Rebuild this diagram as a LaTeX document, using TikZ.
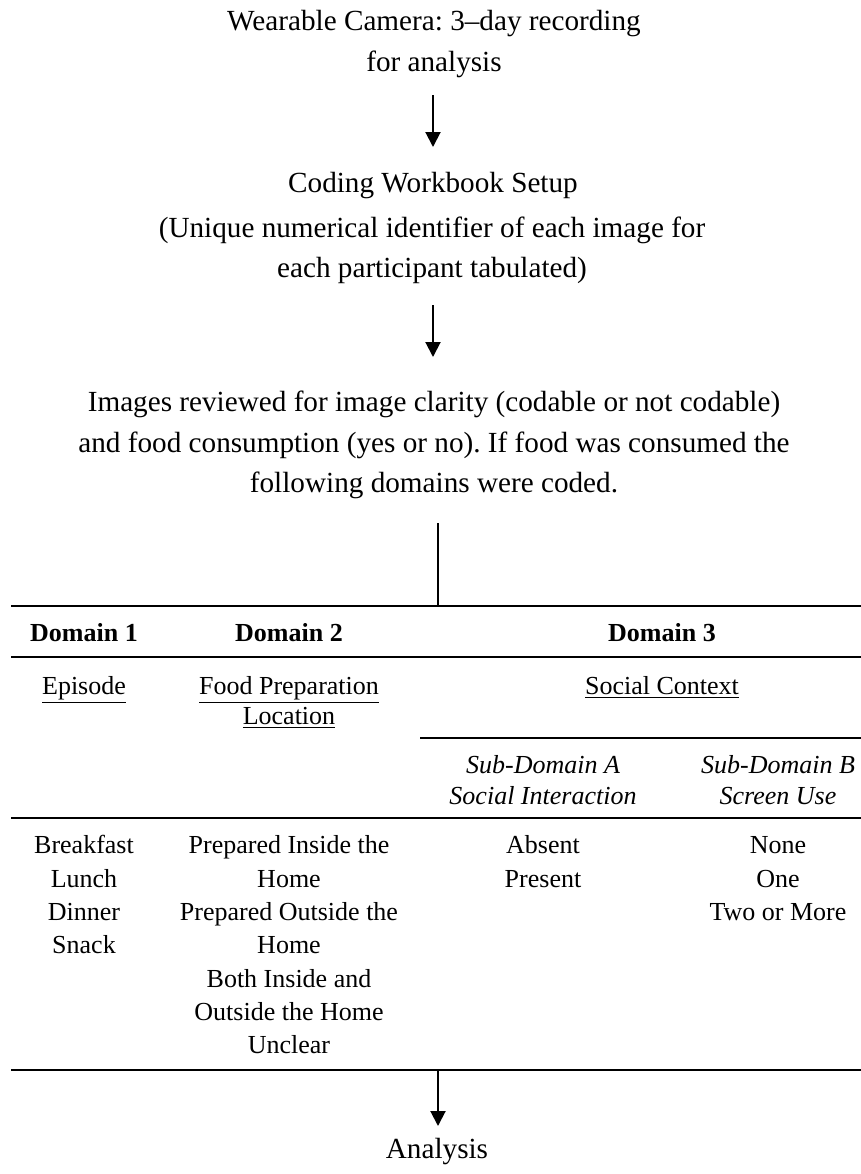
\documentclass[tikz,border=0pt]{standalone}
\usepackage{fontspec}
\setmainfont{Liberation Serif}
\usetikzlibrary{arrows.meta}
\frenchspacing
\begin{document}
\begin{tikzpicture}[x=0.5pt,y=-0.5pt,
  txt/.style={anchor=base, inner sep=0pt, font=\fontsize{13}{16}\selectfont},
  big/.style={anchor=base, inner sep=0pt, font=\fontsize{14.6}{18}\selectfont},
  hd/.style={txt, font=\fontsize{13}{16}\selectfont\bfseries},
  it/.style={txt, font=\fontsize{13}{16}\selectfont\itshape},
  flow/.style={line width=1pt, -{Triangle[length=7.5pt,width=7.5pt]}},
  rulethick/.style={line width=1.3pt},
  rulethin/.style={line width=1.1pt}]
\useasboundingbox (0,0) rectangle (861,1174);
% flow text
\node[big] (t1) at (434,30) {Wearable Camera: 3–day recording};
\node[big] (t2) at (434,71) {for analysis};
\node[big] (c1) at (433,192) {Coding Workbook Setup};
\node[big] (c2) at (432,237) {(Unique numerical identifier of each image for};
\node[big] (c3) at (432,277) {each participant tabulated)};
\node[big] (i1) at (434,411) {Images reviewed for image clarity (codable or not codable)};
\node[big] (i2) at (434,452) {and food consumption (yes or no). If food was consumed the};
\node[big] (i3) at (434,492) {following domains were coded.};
\node[big] (an) at (437,1158) {Analysis};
% connector coordinates
\coordinate (a1s) at (433,95);  \coordinate (a1e) at (433,147);
\coordinate (a2s) at (433,305); \coordinate (a2e) at (433,357);
\coordinate (vs) at (438,523);  \coordinate (ve) at (438,606);
\coordinate (a3s) at (438,1070); \coordinate (a3e) at (438,1126);
\draw[flow] (a1s) -- (a1e);
\draw[flow] (a2s) -- (a2e);
\draw[line width=1pt] (vs) -- (ve);
\draw[flow] (a3s) -- (a3e);
% table rules
\coordinate (r1l) at (11,606);  \coordinate (r1r) at (861,606);
\coordinate (r2l) at (11,657);  \coordinate (r2r) at (861,657);
\coordinate (r3l) at (420,738); \coordinate (r3r) at (861,738);
\coordinate (r4l) at (11,818);  \coordinate (r4r) at (861,818);
\coordinate (r5l) at (11,1070); \coordinate (r5r) at (861,1070);
\draw[rulethick] (r1l) -- (r1r);
\draw[rulethick] (r2l) -- (r2r);
\draw[rulethin] (r3l) -- (r3r);
\draw[rulethin] (r4l) -- (r4r);
\draw[rulethick] (r5l) -- (r5r);
% header row
\node[hd] (d1) at (84,641) {Domain 1};
\node[hd] (d2) at (289,641) {Domain 2};
\node[hd] (d3) at (662,641) {Domain 3};
\node[txt] (ep) at (84,694) {\underline{Episode}};
\node[txt] (fp1) at (289,694) {\underline{Food Preparation}};
\node[txt] (fp2) at (289,724) {\underline{Location}};
\node[txt] (sc) at (662,694) {\underline{Social Context}};
\node[it] (sa1) at (543,773) {Sub-Domain A};
\node[it] (sa2) at (543,804) {Social Interaction};
\node[it] (sb1) at (778,773) {Sub-Domain B};
\node[it] (sb2) at (778,804) {Screen Use};
% body
\node[txt] (e1) at (84,853) {Breakfast};
\node[txt] (e2) at (84,887) {Lunch};
\node[txt] (e3) at (84,920) {Dinner};
\node[txt] (e4) at (84,953) {Snack};
\node[txt] (l1) at (289,853) {Prepared Inside the};
\node[txt] (l2) at (289,887) {Home};
\node[txt] (l3) at (289,920) {Prepared Outside the};
\node[txt] (l4) at (289,953) {Home};
\node[txt] (l5) at (289,987) {Both Inside and};
\node[txt] (l6) at (289,1020) {Outside the Home};
\node[txt] (l7) at (289,1053) {Unclear};
\node[txt] (s1) at (543,853) {Absent};
\node[txt] (s2) at (543,887) {Present};
\node[txt] (u1) at (778,853) {None};
\node[txt] (u2) at (778,887) {One};
\node[txt] (u3) at (778,920) {Two or More};
\end{tikzpicture}
\end{document}
